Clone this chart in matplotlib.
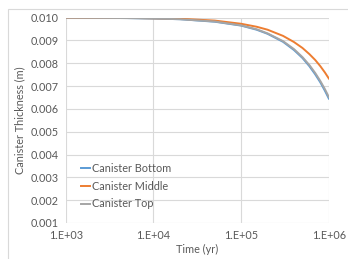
import math
import matplotlib
matplotlib.use("Agg")
import matplotlib.pyplot as plt
from matplotlib.patches import Rectangle
from matplotlib.ticker import FixedLocator, FuncFormatter, NullLocator

# Valores
time_yr = [1e3, 2e3, 5e3, 1e4, 2e4, 5e4, 1e5, 1.5e5, 2e5, 3e5, 4e5, 5e5,
           6e5, 7e5, 8e5, 9e5, 1e6]
bottom = [0.01000, 0.00999, 0.00998, 0.00996, 0.00993, 0.00982, 0.00965,
          0.00947, 0.00929, 0.00894, 0.00858, 0.00823, 0.00787, 0.00751,
          0.00716, 0.00680, 0.00645]
middle = [0.01000, 0.00999, 0.00999, 0.00997, 0.00995, 0.00987, 0.00973,
          0.00960, 0.00947, 0.00920, 0.00893, 0.00867, 0.00840, 0.00814,
          0.00787, 0.00760, 0.00733]
top = [0.01000, 0.00999, 0.00998, 0.00996, 0.00993, 0.00983, 0.00966,
       0.00949, 0.00931, 0.00897, 0.00862, 0.00827, 0.00792, 0.00757,
       0.00722, 0.00687, 0.00652]

series = [("Canister Bottom", bottom, "#5B9BD5"),
          ("Canister Middle", middle, "#ED7D31"),
          ("Canister Top", top, "#A5A5A5")]

x_ticks = [1e3, 1e4, 1e5, 1e6]
y_ticks = [0.001, 0.002, 0.003, 0.004, 0.005, 0.006, 0.007, 0.008, 0.009, 0.010]

plt.rcParams["font.family"] = ["Lato", "DejaVu Sans"]
txt = "#595959"
grid = "#D9D9D9"

fig = plt.figure(figsize=(3.48, 2.59), dpi=100)
# borde del area del grafico
fig.patches.append(Rectangle((8 / 348, -0.1), 1.2, 1 - 9 / 259 + 0.1,
                             transform=fig.transFigure, fill=False,
                             edgecolor=grid, linewidth=0.8))
ax = fig.add_axes([0.189, 0.139, 0.756, 0.793])

for name, vals, color in series:
    ax.plot(time_yr, vals, color=color, linewidth=1.4, label=name)

ax.set_xscale("log")
ax.set_xlim(1e3, 1e6)
ax.set_ylim(0.001, 0.010)
ax.xaxis.set_major_locator(FixedLocator(x_ticks))
ax.xaxis.set_minor_locator(NullLocator())
ax.xaxis.set_major_formatter(FuncFormatter(lambda v, p: "1.E+%02d" % round(math.log10(v))))
ax.yaxis.set_major_locator(FixedLocator(y_ticks))
ax.yaxis.set_major_formatter(FuncFormatter(lambda v, p: "%.3f" % v))

ax.grid(True, color=grid, linewidth=0.8)
ax.set_axisbelow(True)
for s in ax.spines.values():
    s.set_visible(False)
ax.tick_params(length=0, labelsize=7.8, colors=txt, pad=5)

ax.set_xlabel("Time (yr)", fontsize=7.8, color=txt, labelpad=2)
ax.set_ylabel("Canister Thickness (m)", fontsize=7.8, color=txt, labelpad=4)

leg = ax.legend(loc="lower left", bbox_to_anchor=(0.04, 0.045), frameon=False,
                fontsize=7.8, handlelength=0.9, handletextpad=0.15,
                labelspacing=0.62, borderaxespad=0)
for t in leg.get_texts():
    t.set_color(txt)

fig.savefig("out.png", dpi=100)
